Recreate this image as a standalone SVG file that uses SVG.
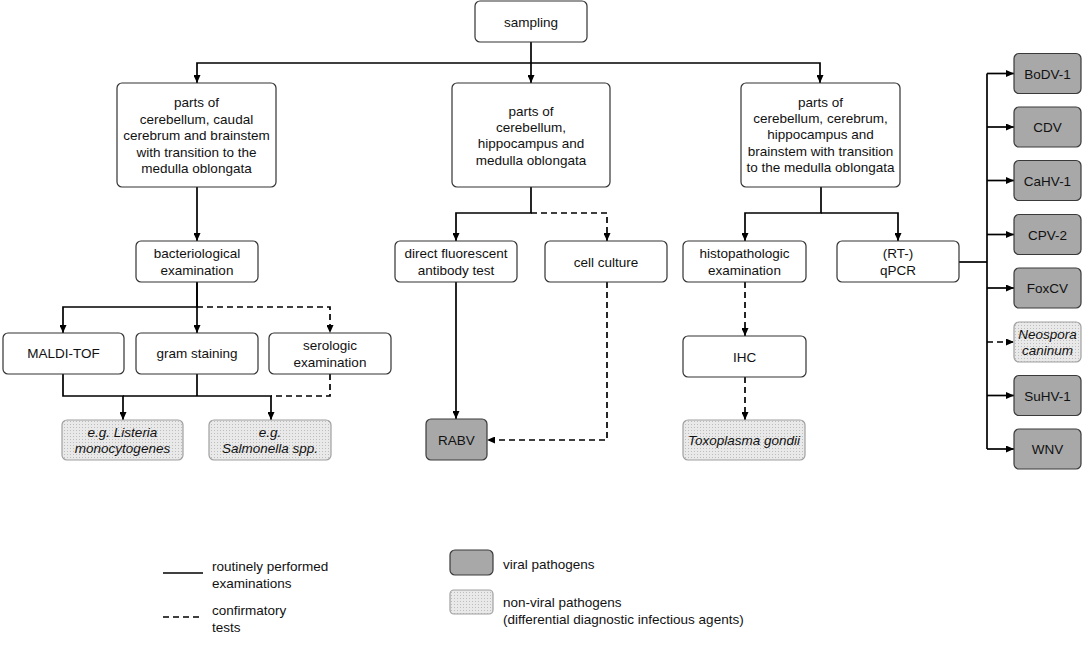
<svg xmlns="http://www.w3.org/2000/svg" width="1084" height="646" viewBox="0 0 1084 646">
<defs>
<marker id="ah" viewBox="0 0 8 7" refX="8" refY="3.5" markerWidth="8" markerHeight="7" markerUnits="userSpaceOnUse" orient="auto"><path d="M0,0 L8,3.5 L0,7 z" fill="#000"/></marker>
<pattern id="dots" width="3" height="3" patternUnits="userSpaceOnUse"><rect width="3" height="3" fill="#e9e9e9"/><rect x="1" y="1" width="1" height="1" fill="#bdbdbd"/></pattern>
<style>
.b{fill:#fff;stroke:#333;stroke-width:1.2}
.v{fill:#a8a8a8;stroke:#3a3a3a;stroke-width:1.2}
.n{fill:url(#dots);stroke:#a0a0a0;stroke-width:1.2}
text{font-family:"Liberation Sans",Arial,sans-serif;font-size:13.5px;fill:#111;text-anchor:middle}
.i{font-style:italic}
.l{text-anchor:start}
.c{fill:none;stroke:#000;stroke-width:1.7}
.d{stroke-dasharray:6,4}
.a{marker-end:url(#ah)}
</style>
</defs>
<g id="connectors">
<path class="c a" d="M531,42 V83"/>
<path class="c a" d="M531,63 H197 V83"/>
<path class="c a" d="M531,63 H820 V83"/>
<path class="c a" d="M197,187 V241"/>
<path class="c a" d="M197,282 V307 H63 V333"/>
<path class="c a" d="M197,282 V333"/>
<path class="c d a" d="M197,307 H330 V333"/>
<path class="c a" d="M63,374 V396 H123 V420"/>
<path class="c a" d="M123,396 H271 V420"/>
<path class="c" d="M197,374 V396"/>
<path class="c d" d="M330,374 V396 H271"/>
<path class="c a" d="M531,187 V213 H456 V241"/>
<path class="c d a" d="M531,213 H607 V241"/>
<path class="c a" d="M456,282 V419"/>
<path class="c d a" d="M607,282 V440 H487"/>
<path class="c a" d="M821,187 V213 H745 V241"/>
<path class="c a" d="M821,213 H898 V241"/>
<path class="c d a" d="M745,282 V336"/>
<path class="c d a" d="M745,377 V420"/>
<path class="c" d="M959,262 H987"/>
<path class="c" d="M987,73.5 V449"/>
<path class="c a" d="M987,73.5 H1014"/>
<path class="c a" d="M987,127 H1014"/>
<path class="c a" d="M987,180.5 H1014"/>
<path class="c a" d="M987,234.5 H1014"/>
<path class="c a" d="M987,288 H1014"/>
<path class="c d a" d="M987,342 H1014"/>
<path class="c a" d="M987,395.5 H1014"/>
<path class="c a" d="M987,449 H1014"/>
</g>
<g id="sampling"><rect class="b" x="475" y="1" width="112" height="41" rx="5"/><text x="531" y="26.5">sampling</text></g>
<g id="parts-left"><rect class="b" x="117" y="83" width="159" height="104" rx="5"/>
<text x="196.5" y="106.5">parts of</text><text x="196.5" y="123.5">cerebellum, caudal</text><text x="196.5" y="140">cerebrum and brainstem</text><text x="196.5" y="156.5">with transition to the</text><text x="196.5" y="173">medulla oblongata</text></g>
<g id="parts-middle"><rect class="b" x="452" y="83" width="158" height="104" rx="5"/>
<text x="531" y="115.5">parts of</text><text x="531" y="132">cerebellum,</text><text x="531" y="148">hippocampus and</text><text x="531" y="164.5">medulla oblongata</text></g>
<g id="parts-right"><rect class="b" x="741" y="83" width="159" height="104" rx="5"/>
<text x="820.5" y="106.5">parts of</text><text x="820.5" y="123">cerebellum, cerebrum,</text><text x="820.5" y="139">hippocampus and</text><text x="820.5" y="155.5">brainstem with transition</text><text x="820.5" y="172">to the medulla oblongata</text></g>
<g id="bacteriological"><rect class="b" x="136" y="241" width="122" height="41" rx="5"/><text x="197" y="257.5">bacteriological</text><text x="197" y="274.5">examination</text></g>
<g id="maldi"><rect class="b" x="3" y="333" width="121" height="41" rx="5"/><text x="63.5" y="358">MALDI-TOF</text></g>
<g id="gram"><rect class="b" x="136" y="333" width="122" height="41" rx="5"/><text x="197" y="358">gram staining</text></g>
<g id="serologic"><rect class="b" x="269" y="333" width="122" height="41" rx="5"/><text x="330" y="350">serologic</text><text x="330" y="366.5">examination</text></g>
<g id="listeria"><rect class="n" x="62" y="420" width="121" height="40" rx="5"/><text class="i" x="122.5" y="436.5">e.g. Listeria</text><text class="i" x="122.5" y="453">monocytogenes</text></g>
<g id="salmonella"><rect class="n" x="209" y="420" width="122" height="40" rx="5"/><text class="i" x="270" y="436.5">e.g.</text><text class="i" x="270" y="453">Salmonella spp.</text></g>
<g id="dfat"><rect class="b" x="395" y="241" width="122" height="41" rx="5"/><text x="456" y="257.5">direct fluorescent</text><text x="456" y="274.5">antibody test</text></g>
<g id="cellculture"><rect class="b" x="545" y="241" width="122" height="41" rx="5"/><text x="606" y="266.5">cell culture</text></g>
<g id="rabv"><rect class="v" x="426" y="419" width="61" height="41" rx="5"/><text x="456.5" y="444.5">RABV</text></g>
<g id="histopathologic"><rect class="b" x="683" y="241" width="123" height="41" rx="5"/><text x="744.5" y="257.5">histopathologic</text><text x="744.5" y="274.5">examination</text></g>
<g id="qpcr"><rect class="b" x="837" y="241" width="122" height="41" rx="5"/><text x="898" y="257.5">(RT-)</text><text x="898" y="274.5">qPCR</text></g>
<g id="ihc"><rect class="b" x="683" y="336" width="123" height="41" rx="5"/><text x="744.5" y="361.5">IHC</text></g>
<g id="toxoplasma"><rect class="n" x="683" y="420" width="122" height="40" rx="5"/><text class="i" x="744" y="444.5">Toxoplasma gondii</text></g>
<g id="bodv1"><rect class="v" x="1014" y="53.5" width="67" height="40" rx="5"/><text x="1047.5" y="78.5">BoDV-1</text></g>
<g id="cdv"><rect class="v" x="1014" y="107" width="67" height="40" rx="5"/><text x="1047.5" y="132">CDV</text></g>
<g id="cahv1"><rect class="v" x="1014" y="160.5" width="67" height="40" rx="5"/><text x="1047.5" y="185.5">CaHV-1</text></g>
<g id="cpv2"><rect class="v" x="1014" y="214.5" width="67" height="40" rx="5"/><text x="1047.5" y="239.5">CPV-2</text></g>
<g id="foxcv"><rect class="v" x="1014" y="268" width="67" height="40" rx="5"/><text x="1047.5" y="293">FoxCV</text></g>
<g id="neospora"><rect class="n" x="1014" y="322" width="67" height="40" rx="5"/><text class="i" x="1047.5" y="338.5">Neospora</text><text class="i" x="1047.5" y="355">caninum</text></g>
<g id="suhv1"><rect class="v" x="1014" y="375.5" width="67" height="40" rx="5"/><text x="1047.5" y="400.5">SuHV-1</text></g>
<g id="wnv"><rect class="v" x="1014" y="429" width="67" height="40" rx="5"/><text x="1047.5" y="454">WNV</text></g>
<g id="legend">
<path class="c" d="M163,573 H203" style="stroke-width:1.4"/>
<text class="l" x="212" y="571">routinely performed</text><text class="l" x="212" y="588">examinations</text>
<path class="c d" d="M163,617 H203" style="stroke-width:1.4"/>
<text class="l" x="212" y="615">confirmatory</text><text class="l" x="212" y="632">tests</text>
<rect class="v" x="450" y="550" width="43" height="25" rx="5"/>
<text class="l" x="503" y="569">viral pathogens</text>
<rect class="n" x="450" y="590" width="43" height="24" rx="4"/>
<text class="l" x="503" y="607">non-viral pathogens</text><text class="l" x="503" y="624">(differential diagnostic infectious agents)</text>
</g>
</svg>
